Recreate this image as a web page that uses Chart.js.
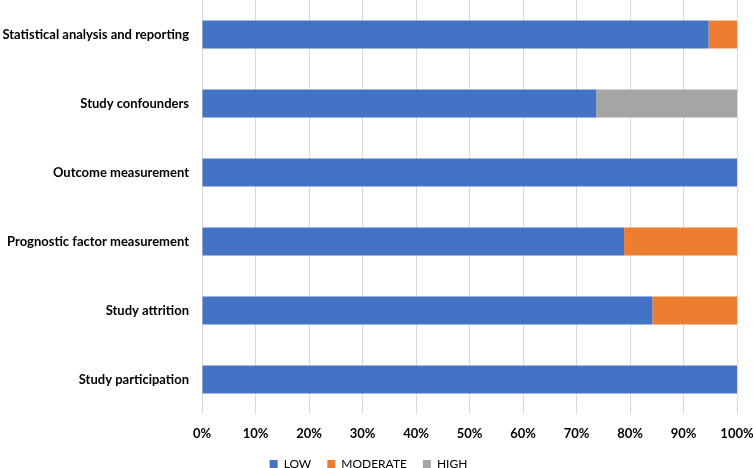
<!DOCTYPE html>
<html>
<head>
<meta charset="utf-8">
<script src="https://cdn.jsdelivr.net/npm/chart.js@4"></script>
<style>
  html, body { margin: 0; padding: 0; background: #fff; }
  #wrap { width: 753px; height: 468px; }
</style>
</head>
<body>
<div id="wrap"><canvas id="chart-bias"></canvas></div>
<script>
// domains, top to bottom
var domains = ["Statistical analysis and reporting", "Study confounders", "Outcome measurement",
               "Prognostic factor measurement", "Study attrition", "Study participation"];
// percent of studies per risk level
var low      = [94.7, 73.7, 100, 78.9, 84.2, 100];
var moderate = [5.3, 0, 0, 21.1, 15.8, 0];
var high     = [0, 26.3, 0, 0, 0, 0];
var xTicks   = [0, 10, 20, 30, 40, 50, 60, 70, 80, 90, 100];

Chart.defaults.font.family = "Lato, 'Open Sans', sans-serif";
Chart.defaults.color = "#000";

var ctx = document.getElementById("chart-bias").getContext('2d');
var biasChart = new Chart(ctx, {
    type: 'bar',
    data: {
        labels: domains,
        datasets: [
            { label: "LOW", data: low, backgroundColor: '#4472C4' },
            { label: "MODERATE", data: moderate, backgroundColor: '#ED7D31' },
            { label: "HIGH", data: high, backgroundColor: '#A5A5A5' }
        ]
    },
    options: {
        indexAxis: 'y',
        responsive: true,
        maintainAspectRatio: false,
        animation: false,
        categoryPercentage: 1,
        barPercentage: 0.405,
        layout: { padding: { left: 0, right: 16, top: 0, bottom: -12 } },
        scales: {
            x: {
                stacked: true,
                min: 0,
                max: 100,
                afterBuildTicks: function (axis) {
                    axis.ticks = xTicks.map(function (v) { return { value: v }; });
                },
                afterFit: function (axis) {
                    axis.height = 28;
                    axis.paddingLeft = 0;
                    axis.paddingRight = 0;
                },
                border: { display: false },
                grid: { color: '#d9d9d9', lineWidth: 1, tickLength: 0, drawTicks: false },
                ticks: {
                    padding: 12,
                    maxRotation: 0,
                    font: { size: 13, weight: 'bold' },
                    callback: function (v) { return v + '%'; }
                }
            },
            y: {
                stacked: true,
                afterFit: function (axis) {
                    axis.width = 202;
                    axis.paddingTop = 0;
                    axis.paddingBottom = 0;
                },
                border: { display: false },
                grid: { display: false, drawTicks: false },
                ticks: { padding: 13, font: { size: 13, weight: 'bold' } }
            }
        },
        plugins: {
            legend: {
                position: 'bottom',
                labels: {
                    boxWidth: 8,
                    boxHeight: 8,
                    padding: 16,
                    font: { size: 12 }
                }
            },
            tooltip: { enabled: false }
        }
    }
});
</script>
</body>
</html>
